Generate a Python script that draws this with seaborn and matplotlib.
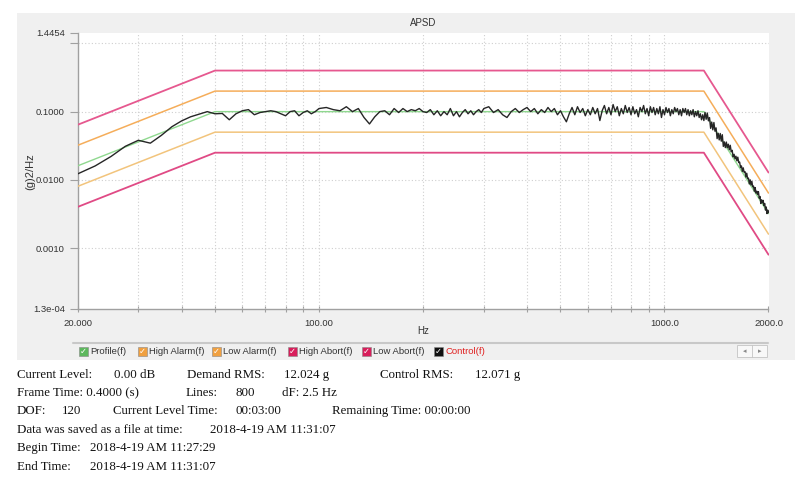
import numpy as np
import pandas as pd
import matplotlib
matplotlib.use("Agg")
import matplotlib.pyplot as plt
import seaborn as sns
from matplotlib.patches import Rectangle
from matplotlib.lines import Line2D
from matplotlib.ticker import NullFormatter, NullLocator

sns.set_theme(style="white")
plt.rcParams['font.family'] = ['Liberation Sans', 'DejaVu Sans']

# ---------------- data ----------------
limit_freq = [20, 50, 1300, 2000]
profile = [0.016, 0.1, 0.1, 0.0032]
high_alarm = [0.032, 0.2, 0.2, 0.0064]
low_alarm = [0.008, 0.05, 0.05, 0.0016]
high_abort = [0.064, 0.4, 0.4, 0.0128]
low_abort = [0.004, 0.025, 0.025, 0.0008]

ctrl_freq_a = np.arange(20, 100.1, 2.5)
ctrl_a = [0.0122, 0.0160, 0.0220, 0.0310, 0.0380, 0.0345, 0.0450, 0.0600, 0.0730, 0.0840,
          0.0920, 0.1000, 0.0930, 0.0940, 0.0760, 0.0930, 0.1030, 0.1070, 0.0900, 0.0970,
          0.1000, 0.1030, 0.1000, 0.0930, 0.0870, 0.1000, 0.1030, 0.0870, 0.0970, 0.1030,
          0.0930, 0.1000, 0.1110]
ctrl_freq_b = np.arange(105, 300.1, 5)
ctrl_b = [0.115, 0.107, 0.103, 0.118, 0.100, 0.111, 0.082, 0.066, 0.084, 0.100,
          0.103, 0.090, 0.111, 0.097, 0.111, 0.100, 0.107, 0.103, 0.111, 0.100,
          0.097, 0.107, 0.090, 0.103, 0.087, 0.100, 0.090, 0.111, 0.087, 0.100,
          0.084, 0.097, 0.107, 0.093, 0.103, 0.090, 0.100, 0.107, 0.097, 0.111]
ctrl_freq_c = np.arange(310, 2000.1, 10)
ctrl_c = [0.118, 0.097, 0.107, 0.090, 0.082, 0.100, 0.111, 0.097, 0.107, 0.115,
          0.100, 0.111, 0.093, 0.107, 0.097, 0.115, 0.100, 0.111, 0.090, 0.103,
          0.084, 0.071, 0.093, 0.115, 0.090, 0.118, 0.097, 0.111, 0.087, 0.107,
          0.090, 0.115, 0.093, 0.111, 0.074, 0.103, 0.123, 0.093, 0.115, 0.090,
          0.127, 0.100, 0.118, 0.087, 0.111, 0.093, 0.123, 0.097, 0.115, 0.090,
          0.118, 0.093, 0.107, 0.084, 0.115, 0.100, 0.123, 0.093, 0.111, 0.087,
          0.118, 0.097, 0.115, 0.090, 0.111, 0.093, 0.118, 0.082, 0.107, 0.090,
          0.115, 0.097, 0.111, 0.087, 0.107, 0.093, 0.115, 0.100, 0.111, 0.090,
          0.107, 0.087, 0.111, 0.097, 0.111, 0.090, 0.107, 0.087, 0.103, 0.090,
          0.107, 0.084, 0.100, 0.087, 0.103, 0.082, 0.093, 0.076, 0.090, 0.074,
          0.0973, 0.0773, 0.0955, 0.0733, 0.0818, 0.0569, 0.0703, 0.0541, 0.0693, 0.0516,
          0.0578, 0.0402, 0.0482, 0.0385, 0.0478, 0.0369, 0.0459, 0.0309, 0.0360, 0.0297,
          0.0358, 0.0296, 0.0333, 0.0276, 0.0321, 0.0258, 0.0271, 0.0217, 0.0237, 0.0203,
          0.0222, 0.0190, 0.0215, 0.0179, 0.0182, 0.0151, 0.0160, 0.0133, 0.0150, 0.0129,
          0.0132, 0.0110, 0.0125, 0.0104, 0.0106, 0.0087, 0.0100, 0.0084, 0.0095, 0.0079,
          0.0081, 0.0068, 0.0077, 0.0064, 0.0068, 0.0061, 0.0067, 0.0054, 0.0057, 0.0045,
          0.0051, 0.0046, 0.0050, 0.0042, 0.0045, 0.0036, 0.0040, 0.0032, 0.0036, 0.0033]

x_ticks = [20, 100, 1000, 2000]
x_tick_labels = ["20.000", "100.00", "1000.0", "2000.0"]
x_minor = [30, 40, 50, 60, 70, 80, 90, 200, 300, 400, 500, 600, 700, 800, 900]
y_ticks = [1.3e-4, 0.001, 0.01, 0.1, 1.0, 1.4454]
y_tick_labels = ["1.3e-04", "0.0010", "0.0100", "0.1000", "", "1.4454"]
y_grid = [0.001, 0.01, 0.1, 1.0]

legend_names = ["Profile(f)", "High Alarm(f)", "Low Alarm(f)", "High Abort(f)", "Low Abort(f)", "Control(f)"]

info_lines = [
    [("Current Level:", 17), ("0.00 dB", 114), ("Demand RMS:", 187), ("12.024 g", 284), ("Control RMS:", 380), ("12.071 g", 475)],
    [("Frame Time: 0.4000 (s)", 17), ("Lines:", 186), ("800", 235), ("dF: 2.5 Hz", 282)],
    [("DOF:", 17), ("120", 62), ("Current Level Time:", 113), ("00:03:00", 235), ("Remaining Time: 00:00:00", 332)],
    [("Data was saved as a file at time:", 17), ("2018-4-19 AM 11:31:07", 210)],
    [("Begin Time:", 17), ("2018-4-19 AM 11:27:29", 90)],
    [("End Time:", 17), ("2018-4-19 AM 11:31:07", 90)],
]

# ---------------- figure ----------------
W, H = 810, 483
fig = plt.figure(figsize=(W / 100, H / 100), dpi=100)
fig.patch.set_facecolor("white")

def fx(px):
    return px / W

def fy(py):
    return 1 - py / H

fig.add_artist(Rectangle((fx(17), fy(360)), (795 - 17) / W, (360 - 13) / H,
                         transform=fig.transFigure, facecolor="#f0f0f0",
                         edgecolor="none", zorder=-10))

ax = fig.add_axes([fx(77.5), fy(308.5), (768.5 - 77.5) / W, (308.5 - 32.5) / H])
ax.set_facecolor("white")

c_prof = "#8fd88f"
c_halarm = "#f5ad5a"
c_lalarm = "#f2c47c"
c_habort = "#e6588f"
c_labort = "#e04a85"
c_ctrl = "#262626"

limits = pd.DataFrame({"f": limit_freq, "profile": profile, "high_alarm": high_alarm,
                       "low_alarm": low_alarm, "high_abort": high_abort, "low_abort": low_abort})
for col, colr, lw in [("high_abort", c_habort, 1.3), ("low_abort", c_labort, 1.3),
                      ("high_alarm", c_halarm, 1.1), ("low_alarm", c_lalarm, 1.1),
                      ("profile", c_prof, 1.0)]:
    sns.lineplot(data=limits, x="f", y=col, ax=ax, color=colr, lw=lw,
                 estimator=None, sort=False, zorder=3)

ctrl = pd.DataFrame({"f": np.concatenate([ctrl_freq_a, ctrl_freq_b, ctrl_freq_c]),
                     "psd": ctrl_a + ctrl_b + ctrl_c})
sns.lineplot(data=ctrl, x="f", y="psd", ax=ax, color=c_ctrl, lw=1.0,
             estimator=None, sort=False, zorder=4)

ax.set_xscale("log")
ax.set_yscale("log")
ax.set_xlim(20, 2000)
ax.set_ylim(1.3e-4, 1.4454)

for f in x_minor + [100, 1000]:
    ax.axvline(f, color="#cfcfcf", ls=(0, (1, 2)), lw=0.8, zorder=1)
for v in y_grid:
    ax.axhline(v, color="#cfcfcf", ls=(0, (1, 2)), lw=0.8, zorder=1)

ax.set_xticks(x_ticks, labels=x_tick_labels)
ax.set_xticks(x_minor, minor=True)
ax.xaxis.set_minor_formatter(NullFormatter())
ax.set_yticks(y_ticks, labels=y_tick_labels)
ax.yaxis.set_minor_locator(NullLocator())

ax.tick_params(axis="y", which="both", direction="out", length=6, width=0.8,
               color="#a0a0a0", labelsize=6.8, pad=3, labelcolor="#333333", left=True)
ax.tick_params(axis="x", which="both", direction="inout", length=5, width=0.8,
               color="#a0a0a0", labelsize=6.8, pad=5, labelcolor="#333333", bottom=True)
for s in ["top", "right"]:
    ax.spines[s].set_visible(False)
for s in ["left", "bottom"]:
    ax.spines[s].set_color("#a0a0a0")
    ax.spines[s].set_linewidth(1.0)
ax.set_xlabel("")
ax.set_ylabel("")
ax.grid(False)

fig.text(fx(423), fy(23), "APSD", ha="center", va="center", fontsize=7, color="#333333")
fig.text(fx(423), fy(331), "Hz", ha="center", va="center", fontsize=7, color="#333333")
fig.text(fx(30), fy(172), "(g)2/Hz", ha="center", va="center", rotation=90,
         fontsize=8, color="#333333")

# legend bar
fig.add_artist(Line2D([fx(73), fx(768)], [fy(343), fy(343)], transform=fig.transFigure,
                      color="#c8c8c8", lw=1.5))
leg_x = [79, 138, 212, 288, 362, 434]
leg_colors = ["#5cb85c", "#f0a040", "#f0a040", "#d81e5b", "#d81e5b", "#111111"]
for name, x0, colr in zip(legend_names, leg_x, leg_colors):
    fig.add_artist(Rectangle((fx(x0), fy(355.5)), 9 / W, 9 / H, transform=fig.transFigure,
                             facecolor=colr, edgecolor="#888888", lw=0.4))
    fig.text(fx(x0 + 4.5), fy(351), "\u2713", ha="center", va="center", fontsize=6,
             color="white", family=["DejaVu Sans"], fontweight="bold")
    fig.text(fx(x0 + 11), fy(351), name, ha="left", va="center", fontsize=6.8,
             color="#e02020" if name == "Control(f)" else "#333333")

fig.add_artist(Rectangle((fx(737), fy(357)), 30 / W, 12 / H, transform=fig.transFigure,
                         facecolor="#f8f8f8", edgecolor="#c4c4c4", lw=0.6))
fig.add_artist(Line2D([fx(752), fx(752)], [fy(357), fy(345)], transform=fig.transFigure,
                      color="#c4c4c4", lw=0.6))
fig.text(fx(744.5), fy(351), "\u25c2", ha="center", va="center", fontsize=5,
         color="#888888", family=["DejaVu Sans"])
fig.text(fx(759.5), fy(351), "\u25b8", ha="center", va="center", fontsize=5,
         color="#888888", family=["DejaVu Sans"])

# info text
line_y = [375, 393, 411, 430, 448, 467]
for items, yy in zip(info_lines, line_y):
    for txt, xx in items:
        fig.text(fx(xx), fy(yy), txt, ha="left", va="center", fontsize=9.3,
                 family=["Liberation Serif", "DejaVu Serif"], color="#111111")

fig.savefig("out.png", dpi=100)
